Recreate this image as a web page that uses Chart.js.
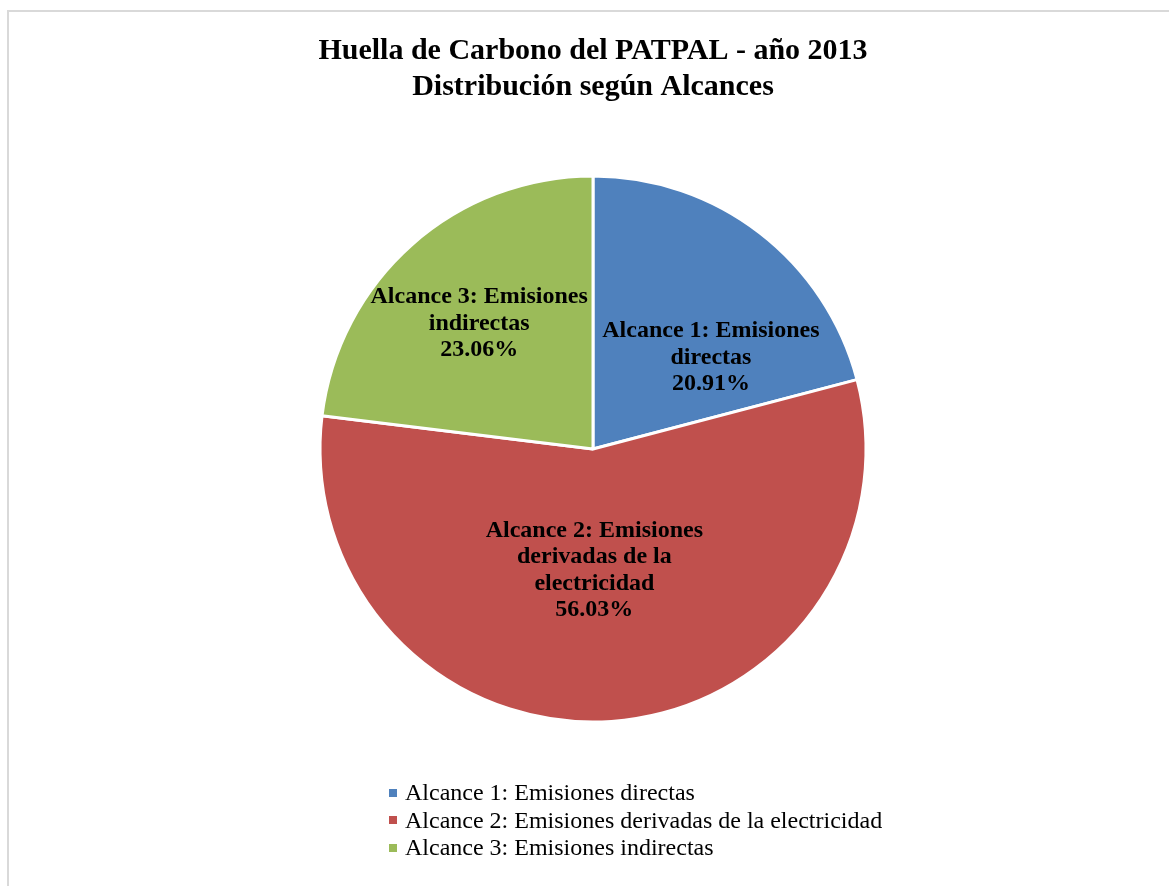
<!DOCTYPE html>
<html>
<head>
<meta charset="utf-8">
<script src="https://cdn.jsdelivr.net/npm/chart.js@4"></script>
<style>
  html, body { margin: 0; padding: 0; background: #fff; }
  body { width: 1169px; height: 886px; position: relative; overflow: hidden; }
  .frame { position: absolute; left: 7px; top: 10px; width: 1300px; height: 1000px; border: 2px solid #d9d9d9; box-sizing: border-box; }
  .wrap { position: absolute; left: 0; top: 0; width: 1169px; height: 886px; }
  #legend { position: absolute; left: 389px; top: 779px; margin: 0; padding: 0; list-style: none;
            font-family: 'Liberation Serif', 'Times New Roman', serif; font-size: 24px; line-height: 27.5px; color: #000; }
  #legend li { display: flex; align-items: center; white-space: nowrap; }
  #legend li span.box { display: inline-block; width: 8px; height: 8px; margin-right: 8px; }
</style>
</head>
<body>
<div class="frame"></div>
<div class="wrap"><canvas id="chart" width="1169" height="886"></canvas></div>
<ul id="legend"></ul>
<script>
// data
const categories = ['Alcance 1: Emisiones directas', 'Alcance 2: Emisiones derivadas de la electricidad', 'Alcance 3: Emisiones indirectas'];
const values = [20.91, 56.03, 23.06];
const colors = ['#4F81BD', '#C0504D', '#9BBB59'];
const titleLines = ['Huella de Carbono del PATPAL - año 2013', 'Distribución según Alcances'];

// where each label sits, relative to the pie center in radius units
const labelOffsets = [[0.432, -0.335], [0.005, 0.445], [-0.417, -0.46]];

const wrapText = (ctx, text, maxW) => {
    const words = text.split(' ');
    const lines = [];
    let cur = '';
    words.forEach(w => {
        const test = cur ? cur + ' ' + w : w;
        if (ctx.measureText(test).width > maxW && cur) {
            lines.push(cur);
            cur = w;
        } else {
            cur = test;
        }
    });
    if (cur) lines.push(cur);
    return lines;
};

const sliceLabels = {
    id: 'sliceLabels',
    afterDatasetsDraw(chart) {
        const ctx = chart.ctx;
        const meta = chart.getDatasetMeta(0);
        const total = values.reduce((a, b) => a + b, 0);
        ctx.save();
        ctx.font = 'bold 24px "Liberation Serif", "Times New Roman", serif';
        ctx.fillStyle = '#000';
        ctx.textAlign = 'center';
        ctx.textBaseline = 'middle';
        meta.data.forEach((arc, i) => {
            const { x, y, outerRadius } = arc.getProps(['x', 'y', 'outerRadius'], true);
            const cx = x + labelOffsets[i][0] * outerRadius;
            const cy = y + labelOffsets[i][1] * outerRadius;
            const lines = wrapText(ctx, chart.data.labels[i], 230);
            lines.push((values[i] / total * 100).toFixed(2) + '%');
            const lh = 26.5;
            const y0 = cy - (lines.length - 1) * lh / 2;
            lines.forEach((ln, k) => ctx.fillText(ln, cx, y0 + k * lh));
        });
        ctx.restore();
    }
};

const chart = new Chart(document.getElementById('chart'), {
    type: 'pie',
    data: {
        labels: categories,
        datasets: [{
            data: values,
            backgroundColor: colors,
            borderColor: '#ffffff',
            borderWidth: 3
        }]
    },
    options: {
        responsive: false,
        animation: false,
        layout: { padding: { left: 17, right: 0, top: 0, bottom: 162.5 } },
        plugins: {
            legend: { display: false },
            tooltip: { enabled: false },
            title: {
                display: true,
                text: titleLines,
                color: '#000',
                font: { family: "'Liberation Serif', 'Times New Roman', serif", size: 30, weight: 'bold', lineHeight: 1.2 },
                padding: { top: 33, bottom: 69.5 }
            }
        }
    },
    plugins: [sliceLabels]
});

// legend as html list, built from the chart's own legend items
const items = chart.options.plugins.legend.labels.generateLabels(chart);
document.getElementById('legend').innerHTML = items.map(it =>
    `<li><span class="box" style="background:${it.fillStyle}"></span>${it.text}</li>`
).join('');
</script>
</body>
</html>
